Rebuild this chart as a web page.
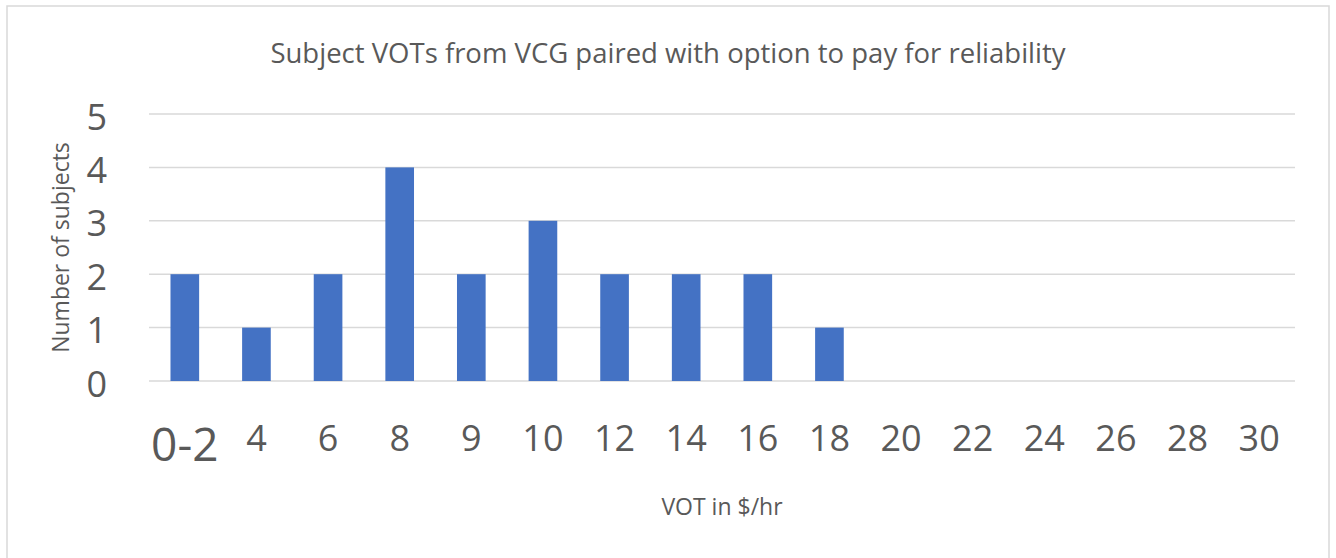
<!DOCTYPE html>
<html>
<head>
<meta charset="utf-8">
<script src="https://cdn.jsdelivr.net/npm/d3@7"></script>
<style>
  body { margin: 0; background: #fff; }
  text { font-family: "Open Sans", "Noto Sans", sans-serif; fill: #595959; }
</style>
</head>
<body>
<div id="chartArea"></div>
<script>
const categories = ["0-2", "4", "6", "8", "9", "10", "12", "14", "16", "18", "20", "22", "24", "26", "28", "30"];
const counts = [2, 1, 2, 4, 2, 3, 2, 2, 2, 1, 0, 0, 0, 0, 0, 0];
const yTicks = [0, 1, 2, 3, 4, 5];

(function() {
  const W = 1336, H = 558;
  const margin = { top: 114, right: 41, bottom: 177, left: 149 };
  const w = W - margin.left - margin.right;
  const h = H - margin.top - margin.bottom;

  const root = d3
    .select("#chartArea")
    .append("svg")
    .attr("width", W)
    .attr("height", H);

  // outer chart frame
  root
    .append("rect")
    .attr("x", 7)
    .attr("y", 6)
    .attr("width", 1322)
    .attr("height", 600)
    .attr("fill", "#fff")
    .attr("stroke", "#d9d9d9")
    .attr("stroke-width", 1.5);

  root
    .append("text")
    .attr("x", 668)
    .attr("y", 63)
    .attr("text-anchor", "middle")
    .style("font-size", "27.5px")
    .text("Subject VOTs from VCG paired with option to pay for reliability");

  const svg = root
    .append("g")
    .attr("transform", "translate(" + margin.left + ", " + margin.top + ")");

  const xScale = d3
    .scaleBand()
    .domain(categories)
    .range([0, w])
    .paddingInner(0.6)
    .paddingOuter(0.3);

  const yScale = d3
    .scaleLinear()
    .domain([0, 5])
    .range([h, 0]);

  // gridlines
  svg
    .selectAll("line.grid")
    .data(yTicks)
    .enter()
    .append("line")
    .attr("class", "grid")
    .attr("x1", 0)
    .attr("x2", w)
    .attr("y1", d => yScale(d))
    .attr("y2", d => yScale(d))
    .attr("stroke", "#d9d9d9")
    .attr("stroke-width", 1.5);

  const yAxis = d3
    .axisLeft(yScale)
    .tickValues(yTicks)
    .tickFormat(d3.format("d"))
    .tickSize(0)
    .tickPadding(42);
  const gy = svg.append("g").attr("class", "y axis").call(yAxis);
  gy.select(".domain").remove();
  gy.selectAll("text")
    .attr("dy", "0.42em")
    .style("font-size", "36px")
    .style("font-family", null)
    .attr("fill", null);

  svg
    .selectAll("rect.bar")
    .data(counts)
    .enter()
    .append("rect")
    .attr("class", "bar")
    .attr("fill", "#4472C4")
    .attr("x", (d, i) => xScale(categories[i]))
    .attr("width", xScale.bandwidth())
    .attr("y", d => yScale(d))
    .attr("height", d => h - yScale(d));

  const xAxis = d3
    .axisBottom(xScale)
    .tickSize(0)
    .tickPadding(0);
  const gx = svg
    .append("g")
    .attr("class", "x axis")
    .attr("transform", "translate(0," + (h + 31) + ")")
    .call(xAxis);
  gx.select(".domain").remove();
  gx.selectAll("text")
    .attr("y", 0)
    .attr("dy", "1.07em")
    .style("font-size", (d, i) => (i === 0 ? "46px" : "36px"))
    .style("font-family", null)
    .attr("fill", null);

  svg
    .append("text")
    .attr("x", w / 2)
    .attr("y", h + 134)
    .attr("text-anchor", "middle")
    .style("font-size", "23px")
    .text("VOT in $/hr");

  svg
    .append("text")
    .attr("transform", "translate(-80," + h / 2 + ") rotate(-90)")
    .attr("text-anchor", "middle")
    .style("font-size", "23px")
    .text("Number of subjects");
})();
</script>
</body>
</html>
